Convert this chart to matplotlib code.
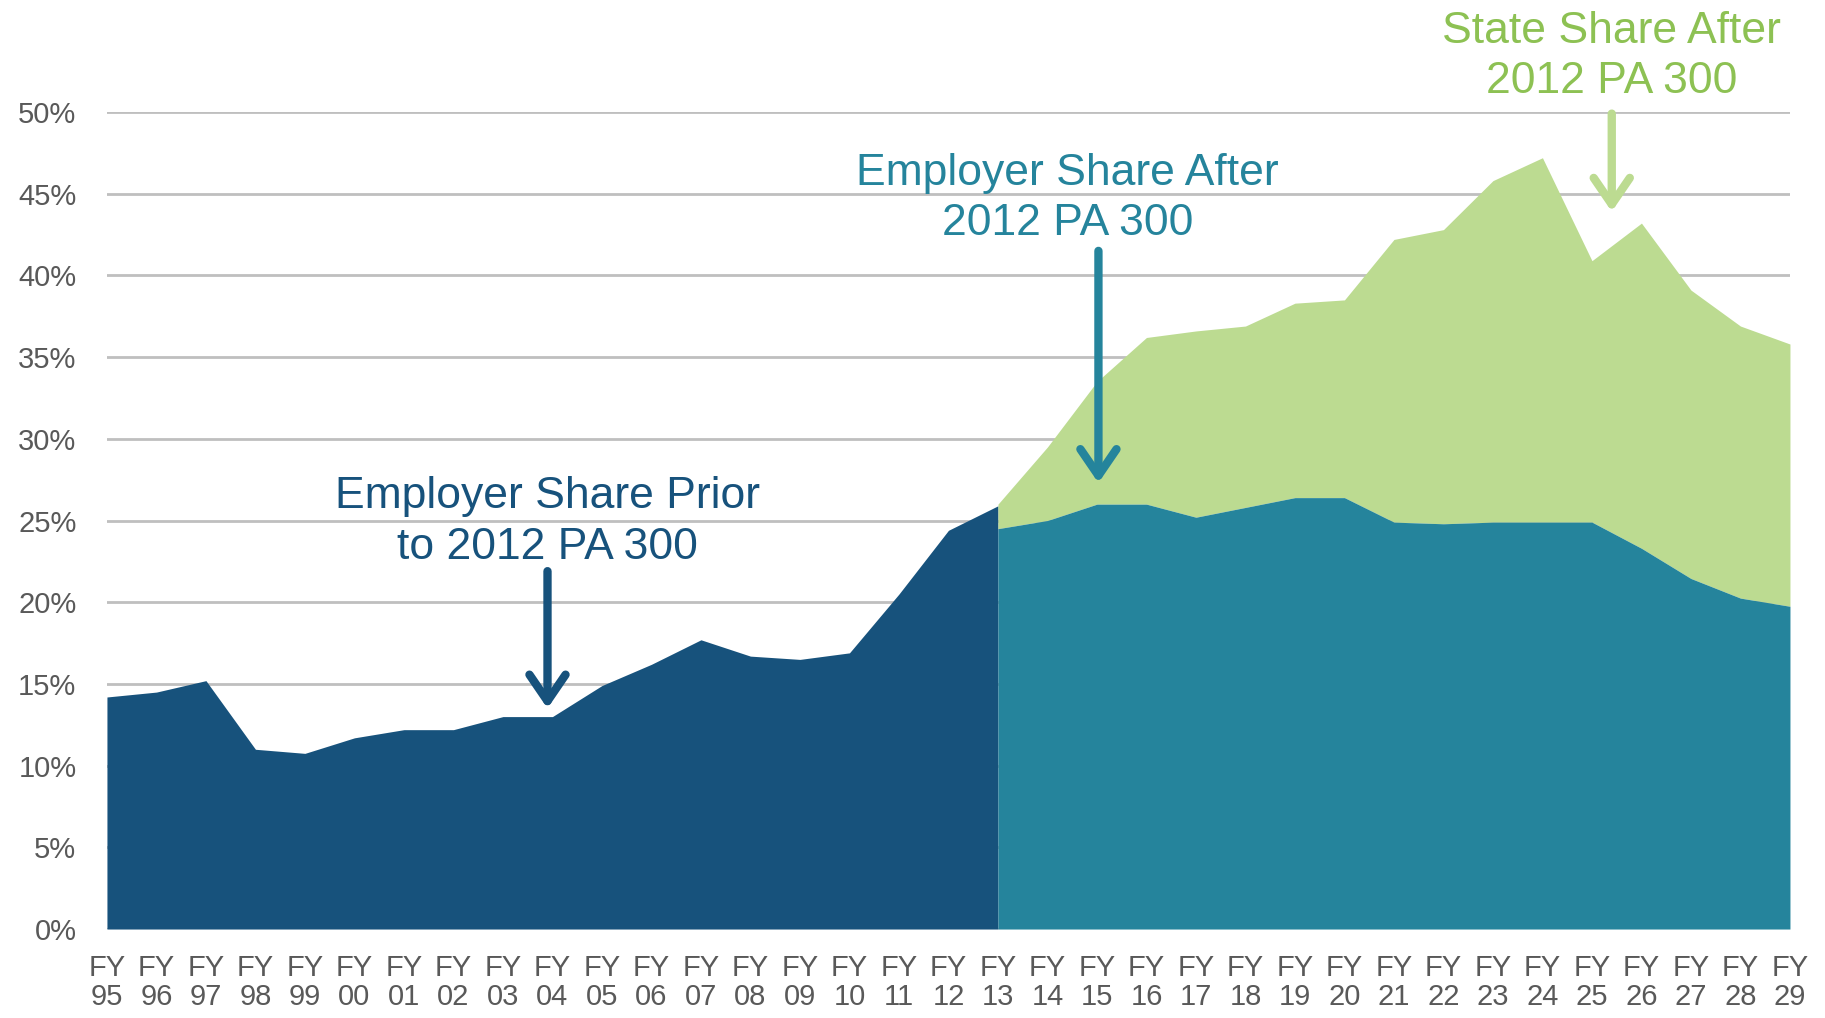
import numpy as np
import matplotlib.pyplot as plt

plt.rcParams['font.family'] = ['Liberation Sans', 'DejaVu Sans']

years = ['95', '96', '97', '98', '99', '00', '01', '02', '03', '04', '05', '06',
         '07', '08', '09', '10', '11', '12', '13', '14', '15', '16', '17', '18',
         '19', '20', '21', '22', '23', '24', '25', '26', '27', '28', '29']
labels = ['FY\n' + y for y in years]

# employer share before 2012 PA 300 (FY95 - FY13), percent of payroll
employer_prior = [14.2, 14.5, 15.2, 11.0, 10.75, 11.7, 12.2, 12.2, 13.0, 13.0,
                  14.9, 16.2, 17.7, 16.7, 16.5, 16.9, 20.5, 24.4, 25.9]

# after 2012 PA 300 (FY13 - FY29)
employer_after = [24.5, 25.0, 26.0, 26.0, 25.2, 25.8, 26.4, 26.4, 24.9, 24.8,
                  24.9, 24.9, 24.9, 23.3, 21.45, 20.25, 19.75]
total_after = [26.0, 29.5, 33.5, 36.2, 36.6, 36.9, 38.3, 38.5, 42.2, 42.8,
               45.8, 47.2, 40.9, 43.2, 39.1, 36.9, 35.8]

c_dark = '#17527C'
c_teal = '#25849C'
c_green = '#BCDB91'
c_green_txt = '#8DC153'
c_grid = '#BFBFBF'
c_tick = '#595959'

x = np.arange(len(years))
x_prior = x[:len(employer_prior)]
x_after = x[len(employer_prior) - 1:]

fig = plt.figure(figsize=(18.25, 10.18), dpi=100)
ax = fig.add_axes([0.0586, 0.0874, 0.9222, 0.8026])

ax.fill_between(x_prior, 0, employer_prior, color=c_dark, lw=0, zorder=2)
ax.fill_between(x_after, employer_after, total_after, color=c_green, lw=0, zorder=2)
ax.fill_between(x_after, 0, employer_after, color=c_teal, lw=0, zorder=3)

ax.set_xlim(0, len(years) - 1)
ax.set_ylim(0, 50)
ax.set_yticks(np.arange(0, 51, 5))
ax.set_yticklabels([f'{v}%' for v in range(0, 51, 5)])
ax.set_xticks(x)
ax.set_xticklabels(labels, linespacing=1.05)
ax.tick_params(length=0, labelsize=21, labelcolor=c_tick)
ax.tick_params(axis='y', pad=22)
ax.tick_params(axis='x', pad=18)
ax.grid(axis='y', color=c_grid, lw=2, zorder=0)
ax.set_axisbelow(True)
for s in ax.spines.values():
    s.set_visible(False)

# annotations
arrow = dict(arrowstyle='->, head_width=1.3, head_length=1.9', lw=6,
             capstyle='round', joinstyle='round', shrinkA=0, shrinkB=0)

ax.text(8.9, 24.9, 'Employer Share Prior\nto 2012 PA 300', color=c_dark,
        fontsize=32, ha='center', va='center', linespacing=1.3, zorder=5)
ax.annotate('', xy=(8.9, 13.5), xytext=(8.9, 21.9),
            arrowprops=dict(arrow, color=c_dark), zorder=5)

ax.text(19.4, 44.7, 'Employer Share After\n2012 PA 300', color=c_teal,
        fontsize=32, ha='center', va='center', linespacing=1.3, zorder=5)
ax.annotate('', xy=(20.03, 27.3), xytext=(20.03, 41.5),
            arrowprops=dict(arrow, color=c_teal), zorder=5)

ax.text(30.4, 53.4, 'State Share After\n2012 PA 300', color=c_green_txt,
        fontsize=32, ha='center', va='center', linespacing=1.3, zorder=5,
        clip_on=False)
ax.annotate('', xy=(30.4, 43.9), xytext=(30.4, 49.9),
            arrowprops=dict(arrow, color=c_green), zorder=5)

fig.savefig('out.png', dpi=100)
